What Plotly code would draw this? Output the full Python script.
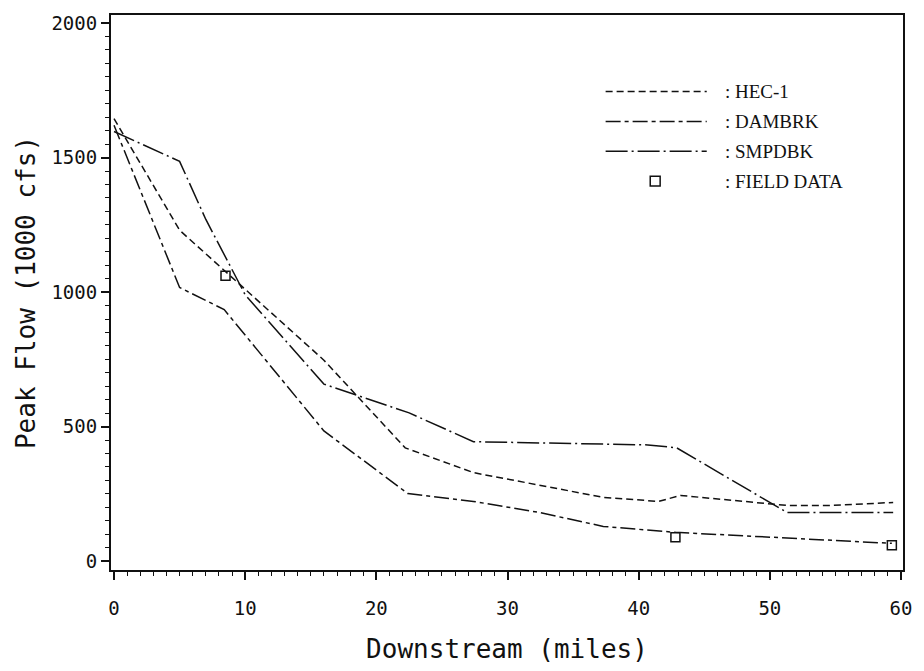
import plotly.graph_objects as go

# ---- data ----
hec_miles = [0, 5, 16, 22.2, 27.4, 37.3, 41.5, 43.2, 51.3, 54.6, 59.4]
hec_flow = [1645, 1230, 747, 421, 329, 237, 222, 244, 207, 207, 218]

dambrk_miles = [0, 5, 8.4, 16, 22.4, 27.4, 32.4, 37.3, 42.8, 51.3, 59.3]
dambrk_flow = [1620, 1017, 935, 484, 251, 222, 181, 129, 107, 85, 66]

smpdbk_miles = [0, 5, 7, 10, 16, 22.5, 27.4, 40.7, 42.9, 51.3, 59.4]
smpdbk_flow = [1597, 1486, 1270, 990, 658, 551, 444, 432, 421, 181, 181]

field_miles = [8.5, 42.8, 59.3]
field_flow = [1061, 89, 59]

x_ticks = [0, 10, 20, 30, 40, 50, 60]
y_ticks = [0, 500, 1000, 1500, 2000]

legend_labels = [": HEC-1", ": DAMBRK", ": SMPDBK", ": FIELD DATA"]

INK = "#111111"
DASH_HEC = "7px,4px"
DASH_DAM = "15px,4px,4px,4px"
DASH_SMP = "22px,4px,2px,4px"

fig = go.Figure()
fig.add_trace(go.Scatter(x=hec_miles, y=hec_flow, mode="lines",
                         line=dict(color=INK, width=1.5, dash=DASH_HEC)))
fig.add_trace(go.Scatter(x=dambrk_miles, y=dambrk_flow, mode="lines",
                         line=dict(color=INK, width=1.5, dash=DASH_DAM)))
fig.add_trace(go.Scatter(x=smpdbk_miles, y=smpdbk_flow, mode="lines",
                         line=dict(color=INK, width=1.5, dash=DASH_SMP)))
fig.add_trace(go.Scatter(x=field_miles, y=field_flow, mode="markers",
                         marker=dict(symbol="square-open", size=9,
                                     color=INK, line=dict(width=1.5, color=INK))))

# ---- hand-drawn style legend (paper coordinates) ----
L, R, T, B = 111, 910, 13, 571
W, H = R - L, B - T
def px(xp):
    return (xp - L) / W
def py(yp):
    return (B - yp) / H

rows = [90, 120, 150, 180]
dashes = [DASH_HEC, DASH_DAM, DASH_SMP]
for i, d in enumerate(dashes):
    fig.add_shape(type="line", xref="paper", yref="paper",
                  x0=px(610), x1=px(712), y0=py(rows[i]), y1=py(rows[i]),
                  line=dict(color=INK, width=1.5, dash=d))
fig.add_shape(type="rect", xref="paper", yref="paper",
              x0=px(655), x1=px(665), y0=py(rows[3] + 5), y1=py(rows[3] - 5),
              line=dict(color=INK, width=1.5))
for i, lab in enumerate(legend_labels):
    fig.add_annotation(xref="paper", yref="paper", x=px(728), y=py(rows[i]),
                       text=lab, showarrow=False, xanchor="left", yanchor="middle",
                       font=dict(family="Liberation Serif", size=19, color=INK))

axis_common = dict(
    showline=True, linecolor=INK, linewidth=2, mirror=True,
    ticks="outside", ticklen=8, tickwidth=1.5, tickcolor=INK,
    showgrid=False, zeroline=False,
    tickfont=dict(family="DejaVu Sans Mono", size=19, color=INK),
)

fig.update_xaxes(range=[-0.23, 60.15], tickvals=x_ticks,
                 minor=dict(dtick=1, ticklen=4, ticks="outside", tickcolor=INK, tickwidth=1),
                 ticklabelstandoff=12,
                 title=dict(text="Downstream (miles)", standoff=22,
                            font=dict(family="DejaVu Sans Mono", size=26, color=INK)),
                 **axis_common)
fig.update_yaxes(range=[-33, 2030], tickvals=y_ticks,
                 minor=dict(dtick=50, ticklen=4, ticks="outside", tickcolor=INK, tickwidth=1),
                 title=dict(text="Peak Flow (1000 cfs)", standoff=8,
                            font=dict(family="DejaVu Sans Mono", size=26, color=INK)),
                 **axis_common)

fig.update_layout(
    width=924, height=671,
    margin=dict(l=L, r=924 - R, t=T, b=671 - B),
    plot_bgcolor="white", paper_bgcolor="white",
    showlegend=False,
)

fig.write_html("out.html")
